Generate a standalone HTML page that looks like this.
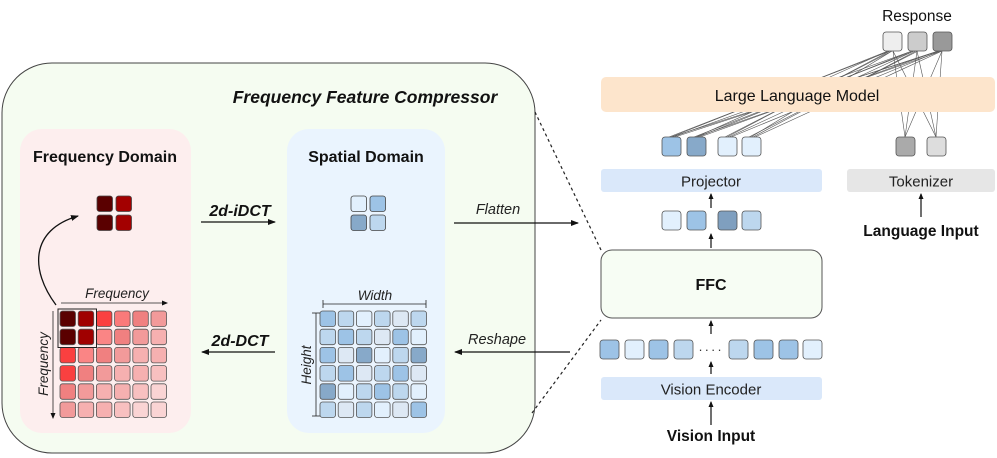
<!DOCTYPE html>
<html><head><meta charset="utf-8"><style>
html,body{margin:0;padding:0;background:#fff}
svg{display:block}
text{font-family:"Liberation Sans",Arial,sans-serif}
</style></head><body>
<svg width="997" height="458" viewBox="0 0 997 458" xmlns="http://www.w3.org/2000/svg">
<defs>
<marker id="ah" markerWidth="8" markerHeight="8" refX="7" refY="4" orient="auto" markerUnits="userSpaceOnUse">
<path d="M0,1 L8,4 L0,7 Z" fill="#111"/></marker>
<marker id="ahs" markerWidth="6" markerHeight="6" refX="5" refY="3" orient="auto" markerUnits="userSpaceOnUse">
<path d="M0,0.5 L6,3 L0,5.5 Z" fill="#111"/></marker>
</defs>

<rect x="2" y="63" width="533" height="390" rx="50" fill="#f5fcf1" stroke="#444" stroke-width="1"/>
<text x="365" y="103" font-size="17.5" font-weight="bold" font-style="italic" text-anchor="middle" fill="#111">Frequency Feature Compressor</text>

<rect x="20" y="129" width="171" height="304" rx="22" fill="#fdeeee"/>
<text x="105" y="162" font-size="16" font-weight="bold" text-anchor="middle" fill="#111">Frequency Domain</text>
<rect x="287" y="129" width="158" height="304" rx="22" fill="#eaf4fe"/>
<text x="366" y="162" font-size="16" font-weight="bold" text-anchor="middle" fill="#111">Spatial Domain</text>

<g stroke="#444" stroke-width="0.8">
<rect x="97" y="196" width="15.5" height="15.5" rx="2.5" fill="#5a0000"/>
<rect x="116" y="196" width="15.5" height="15.5" rx="2.5" fill="#a30000"/>
<rect x="97" y="215" width="15.5" height="15.5" rx="2.5" fill="#5a0000"/>
<rect x="116" y="215" width="15.5" height="15.5" rx="2.5" fill="#a30000"/>
<rect x="351" y="196" width="15.5" height="15.5" rx="2.5" fill="#e2f0fd"/>
<rect x="370" y="196" width="15.5" height="15.5" rx="2.5" fill="#9dc3e6"/>
<rect x="351" y="215" width="15.5" height="15.5" rx="2.5" fill="#87a9c9"/>
<rect x="370" y="215" width="15.5" height="15.5" rx="2.5" fill="#bdd7ee"/>
</g>

<g stroke="#555" stroke-width="0.8">
<rect x="60" y="311" width="15.5" height="15.5" rx="2.5" fill="#5a0000"/><rect x="78.2" y="311" width="15.5" height="15.5" rx="2.5" fill="#a00000"/><rect x="96.4" y="311" width="15.5" height="15.5" rx="2.5" fill="#fa4040"/><rect x="114.6" y="311" width="15.5" height="15.5" rx="2.5" fill="#fa7a7a"/><rect x="132.8" y="311" width="15.5" height="15.5" rx="2.5" fill="#f08080"/><rect x="151" y="311" width="15.5" height="15.5" rx="2.5" fill="#f29a9a"/>
<rect x="60" y="329.2" width="15.5" height="15.5" rx="2.5" fill="#5a0000"/><rect x="78.2" y="329.2" width="15.5" height="15.5" rx="2.5" fill="#a00000"/><rect x="96.4" y="329.2" width="15.5" height="15.5" rx="2.5" fill="#fa8585"/><rect x="114.6" y="329.2" width="15.5" height="15.5" rx="2.5" fill="#f08080"/><rect x="132.8" y="329.2" width="15.5" height="15.5" rx="2.5" fill="#f29a9a"/><rect x="151" y="329.2" width="15.5" height="15.5" rx="2.5" fill="#f6b0b0"/>
<rect x="60" y="347.4" width="15.5" height="15.5" rx="2.5" fill="#fa4040"/><rect x="78.2" y="347.4" width="15.5" height="15.5" rx="2.5" fill="#fa8585"/><rect x="96.4" y="347.4" width="15.5" height="15.5" rx="2.5" fill="#f08080"/><rect x="114.6" y="347.4" width="15.5" height="15.5" rx="2.5" fill="#f29a9a"/><rect x="132.8" y="347.4" width="15.5" height="15.5" rx="2.5" fill="#f6b0b0"/><rect x="151" y="347.4" width="15.5" height="15.5" rx="2.5" fill="#f6b0b0"/>
<rect x="60" y="365.6" width="15.5" height="15.5" rx="2.5" fill="#fa4040"/><rect x="78.2" y="365.6" width="15.5" height="15.5" rx="2.5" fill="#f08080"/><rect x="96.4" y="365.6" width="15.5" height="15.5" rx="2.5" fill="#f29a9a"/><rect x="114.6" y="365.6" width="15.5" height="15.5" rx="2.5" fill="#f6b0b0"/><rect x="132.8" y="365.6" width="15.5" height="15.5" rx="2.5" fill="#f6b0b0"/><rect x="151" y="365.6" width="15.5" height="15.5" rx="2.5" fill="#f8c0c0"/>
<rect x="60" y="383.8" width="15.5" height="15.5" rx="2.5" fill="#f08080"/><rect x="78.2" y="383.8" width="15.5" height="15.5" rx="2.5" fill="#f29a9a"/><rect x="96.4" y="383.8" width="15.5" height="15.5" rx="2.5" fill="#f6b0b0"/><rect x="114.6" y="383.8" width="15.5" height="15.5" rx="2.5" fill="#f6b0b0"/><rect x="132.8" y="383.8" width="15.5" height="15.5" rx="2.5" fill="#f8c0c0"/><rect x="151" y="383.8" width="15.5" height="15.5" rx="2.5" fill="#fad4d4"/>
<rect x="60" y="402" width="15.5" height="15.5" rx="2.5" fill="#f29a9a"/><rect x="78.2" y="402" width="15.5" height="15.5" rx="2.5" fill="#f6b0b0"/><rect x="96.4" y="402" width="15.5" height="15.5" rx="2.5" fill="#f6b0b0"/><rect x="114.6" y="402" width="15.5" height="15.5" rx="2.5" fill="#f8c0c0"/><rect x="132.8" y="402" width="15.5" height="15.5" rx="2.5" fill="#fad4d4"/><rect x="151" y="402" width="15.5" height="15.5" rx="2.5" fill="#fad4d4"/>
</g>
<rect x="58" y="309" width="38.5" height="38.5" fill="none" stroke="#222" stroke-width="1"/>

<g stroke="#555" stroke-width="0.8">
<rect x="320" y="311" width="15.5" height="15.5" rx="2.5" fill="#9dc3e6"/><rect x="338.2" y="311" width="15.5" height="15.5" rx="2.5" fill="#bdd7ee"/><rect x="356.4" y="311" width="15.5" height="15.5" rx="2.5" fill="#e2f0fd"/><rect x="374.6" y="311" width="15.5" height="15.5" rx="2.5" fill="#bdd7ee"/><rect x="392.8" y="311" width="15.5" height="15.5" rx="2.5" fill="#dde8f4"/><rect x="411" y="311" width="15.5" height="15.5" rx="2.5" fill="#bdd7ee"/>
<rect x="320" y="329.2" width="15.5" height="15.5" rx="2.5" fill="#bdd7ee"/><rect x="338.2" y="329.2" width="15.5" height="15.5" rx="2.5" fill="#9dc3e6"/><rect x="356.4" y="329.2" width="15.5" height="15.5" rx="2.5" fill="#bdd7ee"/><rect x="374.6" y="329.2" width="15.5" height="15.5" rx="2.5" fill="#dde8f4"/><rect x="392.8" y="329.2" width="15.5" height="15.5" rx="2.5" fill="#9dc3e6"/><rect x="411" y="329.2" width="15.5" height="15.5" rx="2.5" fill="#e2f0fd"/>
<rect x="320" y="347.4" width="15.5" height="15.5" rx="2.5" fill="#9dc3e6"/><rect x="338.2" y="347.4" width="15.5" height="15.5" rx="2.5" fill="#dde8f4"/><rect x="356.4" y="347.4" width="15.5" height="15.5" rx="2.5" fill="#87a9c9"/><rect x="374.6" y="347.4" width="15.5" height="15.5" rx="2.5" fill="#e2f0fd"/><rect x="392.8" y="347.4" width="15.5" height="15.5" rx="2.5" fill="#bdd7ee"/><rect x="411" y="347.4" width="15.5" height="15.5" rx="2.5" fill="#87a9c9"/>
<rect x="320" y="365.6" width="15.5" height="15.5" rx="2.5" fill="#bdd7ee"/><rect x="338.2" y="365.6" width="15.5" height="15.5" rx="2.5" fill="#9dc3e6"/><rect x="356.4" y="365.6" width="15.5" height="15.5" rx="2.5" fill="#dde8f4"/><rect x="374.6" y="365.6" width="15.5" height="15.5" rx="2.5" fill="#bdd7ee"/><rect x="392.8" y="365.6" width="15.5" height="15.5" rx="2.5" fill="#9dc3e6"/><rect x="411" y="365.6" width="15.5" height="15.5" rx="2.5" fill="#dde8f4"/>
<rect x="320" y="383.8" width="15.5" height="15.5" rx="2.5" fill="#87a9c9"/><rect x="338.2" y="383.8" width="15.5" height="15.5" rx="2.5" fill="#e2f0fd"/><rect x="356.4" y="383.8" width="15.5" height="15.5" rx="2.5" fill="#bdd7ee"/><rect x="374.6" y="383.8" width="15.5" height="15.5" rx="2.5" fill="#9dc3e6"/><rect x="392.8" y="383.8" width="15.5" height="15.5" rx="2.5" fill="#bdd7ee"/><rect x="411" y="383.8" width="15.5" height="15.5" rx="2.5" fill="#e2f0fd"/>
<rect x="320" y="402" width="15.5" height="15.5" rx="2.5" fill="#bdd7ee"/><rect x="338.2" y="402" width="15.5" height="15.5" rx="2.5" fill="#dde8f4"/><rect x="356.4" y="402" width="15.5" height="15.5" rx="2.5" fill="#bdd7ee"/><rect x="374.6" y="402" width="15.5" height="15.5" rx="2.5" fill="#e2f0fd"/><rect x="392.8" y="402" width="15.5" height="15.5" rx="2.5" fill="#dde8f4"/><rect x="411" y="402" width="15.5" height="15.5" rx="2.5" fill="#9dc3e6"/>
</g>

<line x1="61" y1="303" x2="167" y2="303" stroke="#222" stroke-width="0.8" marker-end="url(#ahs)"/>
<text x="117" y="298" font-size="13.5" font-style="italic" text-anchor="middle" fill="#222">Frequency</text>
<line x1="53" y1="311" x2="53" y2="418" stroke="#222" stroke-width="0.8" marker-end="url(#ahs)"/>
<text transform="translate(48,364) rotate(-90)" font-size="13.5" font-style="italic" text-anchor="middle" fill="#222">Frequency</text>
<path d="M56,305 C30,270 30,230 78,216" fill="none" stroke="#111" stroke-width="1.3" marker-end="url(#ah)"/>

<line x1="323" y1="304" x2="426" y2="304" stroke="#222" stroke-width="0.8"/>
<line x1="323" y1="300" x2="323" y2="308" stroke="#222" stroke-width="0.8"/>
<line x1="426" y1="300" x2="426" y2="308" stroke="#222" stroke-width="0.8"/>
<text x="375" y="300" font-size="13.5" font-style="italic" text-anchor="middle" fill="#222">Width</text>
<line x1="316" y1="313" x2="316" y2="416" stroke="#222" stroke-width="0.8"/>
<line x1="312" y1="313" x2="320" y2="313" stroke="#222" stroke-width="0.8"/>
<line x1="312" y1="416" x2="320" y2="416" stroke="#222" stroke-width="0.8"/>
<text transform="translate(311,365) rotate(-90)" font-size="13.5" font-style="italic" text-anchor="middle" fill="#222">Height</text>

<text x="240" y="216" font-size="16" font-weight="bold" font-style="italic" text-anchor="middle" fill="#111">2d-iDCT</text>
<line x1="201" y1="222" x2="275" y2="222" stroke="#111" stroke-width="1.3" marker-end="url(#ah)"/>
<text x="240" y="346" font-size="16" font-weight="bold" font-style="italic" text-anchor="middle" fill="#111">2d-DCT</text>
<line x1="275" y1="352" x2="202" y2="352" stroke="#111" stroke-width="1.3" marker-end="url(#ah)"/>
<text x="498" y="214" font-size="14.5" font-style="italic" text-anchor="middle" fill="#222">Flatten</text>
<line x1="454" y1="223" x2="578" y2="223" stroke="#111" stroke-width="1.3" marker-end="url(#ah)"/>
<text x="497" y="344" font-size="14.5" font-style="italic" text-anchor="middle" fill="#222">Reshape</text>
<line x1="570" y1="352" x2="455" y2="352" stroke="#111" stroke-width="1.3" marker-end="url(#ah)"/>

<line x1="535" y1="112" x2="601" y2="250" stroke="#222" stroke-width="1.2" stroke-dasharray="3,3"/>
<line x1="532" y1="413" x2="601" y2="320" stroke="#222" stroke-width="1.2" stroke-dasharray="3,3"/>

<g stroke="#555" stroke-width="0.6">
<line x1="671" y1="137" x2="888" y2="51"/><line x1="673" y1="137" x2="912" y2="51"/><line x1="675" y1="137" x2="938" y2="51"/><line x1="669" y1="137" x2="890" y2="51"/><line x1="671" y1="137" x2="940" y2="51"/>
<line x1="696" y1="137" x2="888" y2="51"/><line x1="698" y1="137" x2="912" y2="51"/><line x1="700" y1="137" x2="938" y2="51"/><line x1="694" y1="137" x2="914" y2="51"/><line x1="696" y1="137" x2="942" y2="51"/>
<line x1="727" y1="137" x2="890" y2="51"/><line x1="729" y1="137" x2="914" y2="51"/><line x1="731" y1="137" x2="940" y2="51"/><line x1="725" y1="137" x2="892" y2="51"/>
<line x1="751" y1="137" x2="892" y2="51"/><line x1="753" y1="137" x2="916" y2="51"/><line x1="755" y1="137" x2="942" y2="51"/><line x1="749" y1="137" x2="918" y2="51"/>
<line x1="905" y1="137" x2="893" y2="51"/><line x1="905" y1="137" x2="917" y2="51"/><line x1="905" y1="137" x2="942" y2="51"/>
<line x1="936" y1="137" x2="893" y2="51"/><line x1="936" y1="137" x2="917" y2="51"/><line x1="936" y1="137" x2="942" y2="51"/>
</g>

<text x="917" y="21" font-size="15.5" text-anchor="middle" fill="#111">Response</text>
<g stroke="#555" stroke-width="0.8">
<rect x="883" y="32" width="19" height="19" rx="3" fill="#eeeeee"/>
<rect x="908" y="32" width="19" height="19" rx="3" fill="#cccccc"/>
<rect x="933" y="32" width="19" height="19" rx="3" fill="#999999"/>
</g>
<rect x="601" y="77" width="394" height="35" rx="5" fill="#fde5cc"/>
<text x="797" y="101" font-size="16" text-anchor="middle" fill="#111">Large Language Model</text>

<g stroke="#555" stroke-width="0.8">
<rect x="662" y="137" width="19" height="19" rx="3" fill="#9dc3e6"/>
<rect x="687" y="137" width="19" height="19" rx="3" fill="#87a9c9"/>
<rect x="718" y="137" width="19" height="19" rx="3" fill="#e2f0fd"/>
<rect x="742" y="137" width="19" height="19" rx="3" fill="#e2f0fd"/>
<rect x="896" y="137" width="19" height="19" rx="3" fill="#aaaaaa"/>
<rect x="927" y="137" width="19" height="19" rx="3" fill="#dddddd"/>
</g>
<rect x="601" y="169" width="221" height="23" rx="3" fill="#dae8fa"/>
<text x="711" y="186.5" font-size="15" text-anchor="middle" fill="#222">Projector</text>
<rect x="847" y="169" width="148" height="23" rx="3" fill="#e6e6e6"/>
<text x="921" y="186.5" font-size="15" text-anchor="middle" fill="#222">Tokenizer</text>
<line x1="711" y1="208" x2="711" y2="194" stroke="#111" stroke-width="1.2" marker-end="url(#ahs)"/>
<line x1="921" y1="217" x2="921" y2="194" stroke="#111" stroke-width="1.2" marker-end="url(#ahs)"/>
<text x="921" y="236" font-size="15.5" font-weight="bold" text-anchor="middle" fill="#111">Language Input</text>

<g stroke="#555" stroke-width="0.8">
<rect x="662" y="211" width="19" height="19" rx="3" fill="#e2f0fd"/>
<rect x="687" y="211" width="19" height="19" rx="3" fill="#9dc3e6"/>
<rect x="718" y="211" width="19" height="19" rx="3" fill="#7f9fbf"/>
<rect x="742" y="211" width="19" height="19" rx="3" fill="#bdd7ee"/>
</g>
<line x1="711" y1="248" x2="711" y2="234" stroke="#111" stroke-width="1.2" marker-end="url(#ahs)"/>
<rect x="601" y="250" width="221" height="68" rx="11" fill="#f7fdf4" stroke="#555" stroke-width="1"/>
<text x="711" y="290" font-size="16" font-weight="bold" text-anchor="middle" fill="#111">FFC</text>
<line x1="711" y1="334" x2="711" y2="321" stroke="#111" stroke-width="1.2" marker-end="url(#ahs)"/>

<g stroke="#555" stroke-width="0.8">
<rect x="600" y="340" width="19" height="19" rx="3" fill="#9dc3e6"/>
<rect x="625" y="340" width="19" height="19" rx="3" fill="#e2f0fd"/>
<rect x="649" y="340" width="19" height="19" rx="3" fill="#9dc3e6"/>
<rect x="674" y="340" width="19" height="19" rx="3" fill="#bdd7ee"/>
<rect x="729" y="340" width="19" height="19" rx="3" fill="#bdd7ee"/>
<rect x="754" y="340" width="19" height="19" rx="3" fill="#9dc3e6"/>
<rect x="779" y="340" width="19" height="19" rx="3" fill="#9dc3e6"/>
<rect x="803" y="340" width="19" height="19" rx="3" fill="#e2f0fd"/>
</g>
<text x="711" y="354" font-size="13" text-anchor="middle" fill="#333" letter-spacing="2">····</text>
<line x1="711" y1="374" x2="711" y2="362" stroke="#111" stroke-width="1.2" marker-end="url(#ahs)"/>
<rect x="601" y="377" width="221" height="23" rx="3" fill="#dae8fa"/>
<text x="711" y="394.5" font-size="15" text-anchor="middle" fill="#222">Vision Encoder</text>
<line x1="711" y1="425" x2="711" y2="402" stroke="#111" stroke-width="1.2" marker-end="url(#ahs)"/>
<text x="711" y="441" font-size="15.5" font-weight="bold" text-anchor="middle" fill="#111">Vision Input</text>
</svg>
</body></html>
